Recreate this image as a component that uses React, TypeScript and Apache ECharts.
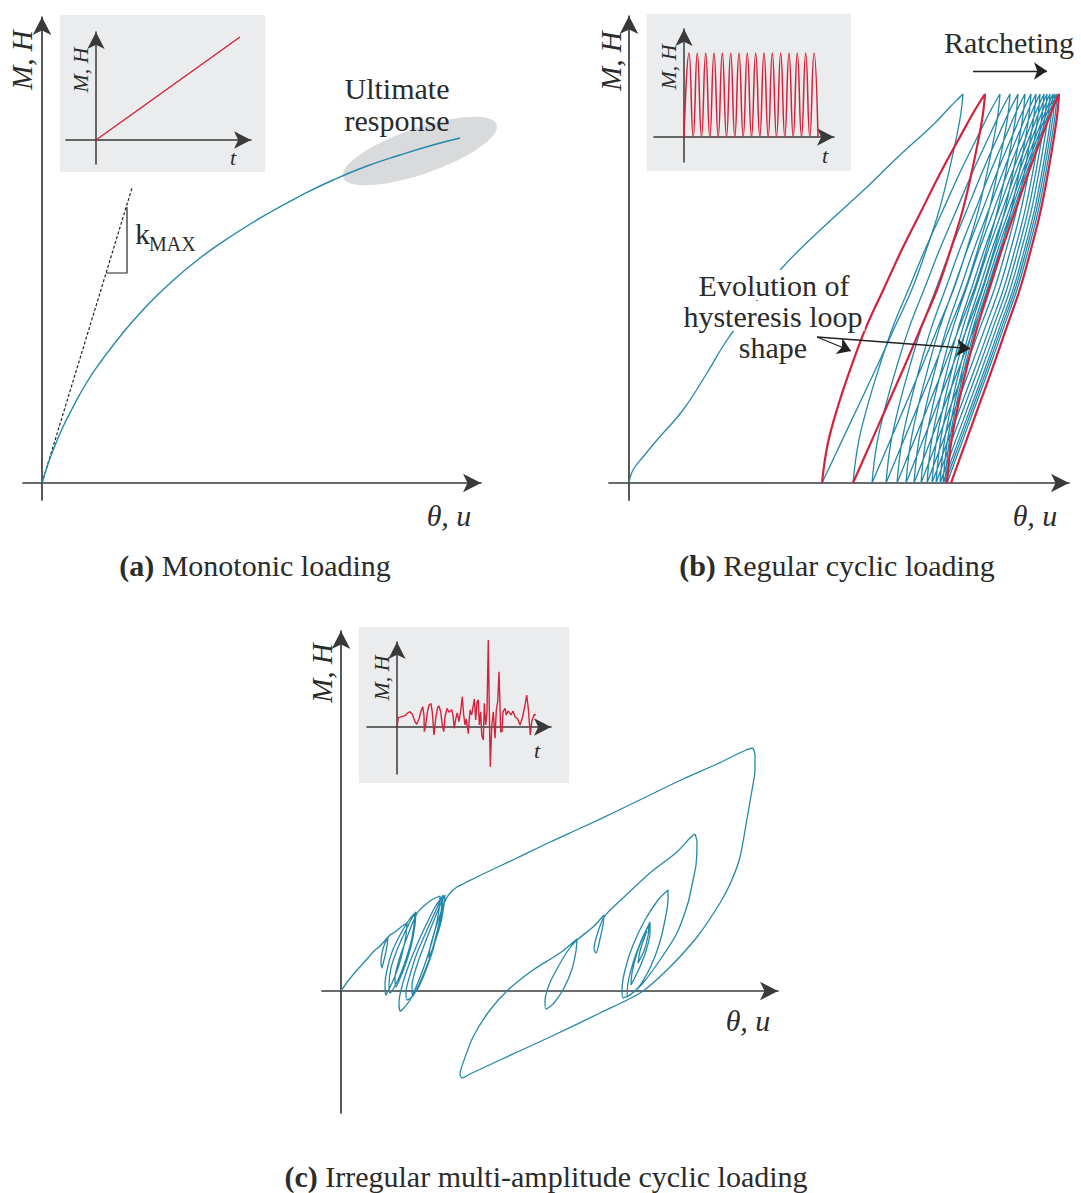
import React, { useEffect, useRef } from "react";
import * as echarts from "echarts";

const BLUE = "#2488aa";
const RED = "#d3223b";
const INK = "#2b2b2b";
const AXIS = "#3a3a3a";
const INSET_BG = "#ebeced";
const ZONE = "#d9dadb";
const FONT = '"Liberation Serif", "DejaVu Serif", serif';

// ---------- Panel (a): monotonic loading ----------
const aMonotonicCurve = [
  [0, 0], [5, 16], [10, 30], [20, 54], [30, 74], [45, 101], [60, 123], [80, 149],
  [100, 172], [125, 197], [158, 225], [191, 248], [225, 269], [258, 287],
  [291, 303], [325, 317], [358, 328], [391, 338], [418, 345],
];
const aInitialTangent = [[0, 0], [90, 295]];
const aSlopeTriangle = [[64, 210], [85, 210], [85, 276]];
const aUltimateZone = [[378, 332, 81, 23, 19]]; // centre x, centre y, half-length, half-width, tilt (deg)
const aInsetLoad = [[0, 0], [144, 103]];

// ---------- Panel (b): regular cyclic loading ----------
const bInitialLoading = [
  [0, 0], [4, 13], [14, 26], [28, 43], [54, 73], [78, 110], [98, 143],
  [126, 180], [153, 215], [188, 250], [238, 296], [271, 328], [304, 358],
  [321, 376], [331, 386], [334, 389],
];
const bLoopTops = [334, 356, 371, 381, 389, 396, 402, 407, 411, 415, 418, 421, 424, 426, 428, 430];
const bLoopBottoms = [193, 224, 243, 257, 268, 277, 285, 292, 298, 303, 307, 311, 314, 316, 318, 322];
const bLoopHeight = 389;
// reloading branch: [height fraction, horizontal fraction from start to peak]
const bReloadShape = [
  [0, 0], [0.1, 0.035], [0.2, 0.1], [0.3, 0.18], [0.4, 0.27], [0.5, 0.38],
  [0.6, 0.49], [0.7, 0.61], [0.8, 0.73], [0.9, 0.86], [0.96, 0.94], [1, 1],
];
// unloading branch: [height fraction, horizontal fraction from end to peak]
const bUnloadShape = [
  [1, 1], [0.95, 0.985], [0.9, 0.96], [0.8, 0.9], [0.7, 0.83], [0.6, 0.74],
  [0.5, 0.64], [0.4, 0.515], [0.3, 0.39], [0.2, 0.26], [0.1, 0.13], [0, 0],
];
const bInsetLoad = [
  [0, 0], [5, 84], [9.2, 0], [13.3, 84], [17.5, 0], [21.7, 84], [25.8, 0], [30, 84],
  [34.2, 0], [38.3, 84], [42.5, 0], [46.7, 84], [50.8, 0], [55, 84], [59.2, 0],
  [63.3, 84], [67.5, 0], [71.7, 84], [75.8, 0], [80, 84], [84.2, 0], [88.3, 84],
  [92.5, 0], [96.7, 84], [100.8, 0], [105, 84], [109.2, 0], [113.3, 84], [117.5, 0],
  [121.7, 84], [125.8, 0], [130, 84], [134, 0],
];
const bShapeArrows = [
  [[188, 146], [222, 132]],
  [[188, 146], [341, 134.5]],
];
const bRatchetArrow = [[344, 412], [418, 412]];

// ---------- Panel (c): irregular multi-amplitude cyclic loading ----------
const cFirstExcursion = [
  [0, 0], [7, 10], [17, 22], [27, 33], [33, 40], [39, 45], [47, 54],
  [46, 45], [44, 35], [42, 27], [41, 23], [40, 28], [41, 38], [44, 48], [48, 55],
  [54, 59], [60, 64], [66, 68],
  [65, 56], [62, 41], [57, 23], [51, 8], [46, -2], [45, -4],
  [44, 6], [46, 21], [51, 39], [59, 56], [68, 71], [74, 78],
  [73, 66], [70, 49], [64, 29], [57, 11], [51, 0], [49, -2],
  [48, 6], [50, 23], [56, 41], [64, 59], [71, 73], [75, 79],
  [74, 66], [71, 49], [66, 31], [60, 15], [55, 4],
  [54, 13], [58, 31], [65, 51], [72, 69], [77, 79],
  [84, 86], [92, 92], [99, 95],
  [98, 81], [94, 61], [87, 36], [78, 11], [69, -9], [61, -19], [59, -20],
  [58, -12], [60, 1], [66, 21], [75, 44], [85, 66], [94, 84], [101, 94],
  [100, 79], [96, 59], [89, 34], [80, 11], [72, -5], [66, -9],
  [65, -1], [69, 16], [76, 38], [86, 61], [95, 81], [102, 96],
  [101, 81], [97, 61], [91, 38], [83, 16], [76, 1], [71, -3],
  [71, 6], [76, 26], [84, 48], [93, 71], [100, 88], [104, 96],
  [103, 86], [100, 69], [94, 49], [88, 33],
  [89, 43], [94, 61], [100, 79], [105, 92], [110, 99], [116, 104],
  [124, 108], [142, 117], [176, 133], [209, 149], [242, 164],
  [276, 180], [309, 196], [342, 212], [376, 227], [405, 241], [412, 243],
];
const cLargeCycle = [
  [412, 243], [414, 236], [414, 221], [411, 201], [407, 178], [399, 134], [390, 109],
  [379, 88], [356, 54], [326, 21], [299, -2], [259, -22], [209, -46], [159, -69],
  [129, -83], [121, -87], [119, -83],
  [122, -72], [132, -46], [149, -19], [167, 1], [192, 21], [219, 38], [236, 52],
  [235, 40], [231, 22], [223, 3], [213, -12], [205, -18], [204, -10], [208, 6], [217, 24], [228, 42], [236, 51],
  [252, 64], [263, 76],
  [262, 66], [259, 52], [255, 38], [253, 42], [256, 56], [263, 74],
  [282, 93], [309, 118], [336, 139], [349, 153], [354, 157],
];
const cLateCycles = [
  [354, 157], [356, 149], [355, 126], [351, 106], [347, 88], [336, 58], [319, 31],
  [302, 8], [289, -4], [282, -7],
  [281, 1], [284, 21], [292, 46], [304, 71], [317, 91], [327, 101],
  [327, 91], [324, 71], [318, 46], [309, 23], [297, 3], [286, -6],
  [287, 8], [292, 28], [300, 50], [309, 69],
  [309, 58], [305, 40], [298, 22], [290, 6],
  [291, 18], [296, 38], [303, 56], [308, 66],
  [307, 55], [303, 40], [297, 28],
  [299, 40], [304, 55], [306, 60],
];
const cInsetLoad = [
  [0, 0], [1.3, 9.3], [4.7, 10.3], [8, 11.3], [10.7, 14], [13, 15.3], [15.3, 12.7],
  [18, 5.3], [19.7, 2.7], [22, 8], [24, 16], [25.7, 20.3], [27, 11.3], [27.3, -4.7],
  [28.7, 2], [30.3, 14.7], [32, 22], [34, 23.3], [35.3, 14.7], [37, -8], [38.7, 8.7],
  [40.7, 20], [42, 21], [43.7, 15.3], [45.3, 2], [46.7, -4.7], [48, 10], [50, 18.7],
  [52, 14.7], [53.3, 16], [54.7, 17.3], [56, 11.3], [57.3, -1.3], [58.7, 8], [60.3, 14],
  [62, 5.3], [64, 18.7], [65.3, 30.3], [66.7, 12], [68, 2], [69.3, 8], [71.3, -6.7],
  [73, 17], [74.7, 12], [76.3, 22], [77.3, 28], [78.7, 7], [80, 24.7], [81.3, 27.3],
  [82.3, 2], [83.7, 15.3], [84.7, -8], [86.3, -13], [87.3, 23.7], [88.7, 2], [90, 15.3],
  [91.3, 87], [92.7, -8], [93.3, -39.7], [94.7, 0.3], [96.3, 15.3], [98, -11.3],
  [99.3, 17], [100.7, 25.3], [102, 55.3], [103.7, -4.7], [105, -4.7], [106, 15.3],
  [108, 18.7], [109.3, 12], [111, 16], [112.3, 14.7], [114, 12], [116, 16], [118, 10.3],
  [120.7, 8], [123, 2], [125.3, 8.7], [128, 22], [129.7, 32], [131.3, 18.7], [133.3, -8],
  [134.7, 5.3], [136, 9.3], [137.3, 12.7], [138.7, 12],
];

// ---------- helpers ----------
function loopPath(from: number, top: number, to: number) {
  const pts: number[][] = [];
  bReloadShape.forEach(([h, f]) => pts.push([from + f * (top - from), h * bLoopHeight]));
  bUnloadShape.slice(1).forEach(([h, g]) => pts.push([to + g * (top - to), h * bLoopHeight]));
  return pts;
}
function unloadPath(top: number, to: number) {
  return bUnloadShape.map(([h, g]) => [to + g * (top - to), h * bLoopHeight]);
}

const bBlueFirst = [...bInitialLoading, ...unloadPath(bLoopTops[0], bLoopBottoms[0]).slice(1)];
const bRedFirst = loopPath(bLoopBottoms[0], bLoopTops[1], bLoopBottoms[1]);
const bBlueMiddle: number[][] = [];
for (let i = 2; i <= 14; i++) {
  const seg = loopPath(bLoopBottoms[i - 1], bLoopTops[i], bLoopBottoms[i]);
  bBlueMiddle.push(...(i === 2 ? seg : seg.slice(1)));
}
const bRedLast = loopPath(bLoopBottoms[14], bLoopTops[15], bLoopBottoms[15]);

const axisPair = (grid: number, xr: number[], yr: number[], inset: boolean) => {
  const common = {
    type: "value",
    gridIndex: grid,
    axisTick: { show: false },
    axisLabel: { show: false },
    splitLine: { show: false },
    axisLine: {
      show: true,
      onZero: true,
      symbol: ["none", "arrow"],
      symbolSize: inset ? [13, 17] : [14, 18],
      lineStyle: { color: AXIS, width: inset ? 1.5 : 1.7 },
    },
  };
  return {
    x: { ...common, min: xr[0], max: xr[1] },
    y: { ...common, min: yr[0], max: yr[1] },
  };
};

const line = (data: number[][], idx: number, color: string, width: number, extra: any = {}) => ({
  type: "line",
  xAxisIndex: idx,
  yAxisIndex: idx,
  data,
  symbol: "none",
  showSymbol: false,
  silent: true,
  clip: false,
  lineStyle: { color, width, ...(extra.lineStyle || {}) },
  smooth: extra.smooth ?? false,
  z: extra.z ?? 2,
});

const txt = (text: string, x: number, y: number, size: number, o: any = {}) => ({
  type: "text",
  x,
  y,
  z: 100,
  rotation: o.rot || 0,
  silent: true,
  style: {
    text,
    fontFamily: FONT,
    fontSize: size,
    fontStyle: o.italic ? "italic" : "normal",
    fill: INK,
    align: o.align || "center",
    verticalAlign: "middle",
    backgroundColor: o.bg,
    padding: o.pad,
    rich: o.rich,
  },
});

const BIG = 30;
const boldRich = { b: { fontWeight: "bold", fontFamily: FONT, fontSize: BIG, fill: INK } };

export default function App() {
  const ref = useRef<HTMLDivElement>(null);
  useEffect(() => {
    if (!ref.current) return;
    const chart = echarts.init(ref.current, undefined, { renderer: "svg" });

    const grids = [
      { left: 23, top: 17, width: 458, height: 483 },
      { left: 609, top: 16, width: 460, height: 484 },
      { left: 322, top: 631, width: 456, height: 482 },
      { left: 66, top: 32, width: 185, height: 132 },
      { left: 654, top: 29, width: 180, height: 133 },
      { left: 367, top: 642, width: 184, height: 132 },
    ];
    const axes = [
      axisPair(0, [-19, 439], [-17, 466], false),
      axisPair(1, [-20, 440], [-17, 467], false),
      axisPair(2, [-19, 437], [-122, 360], false),
      axisPair(3, [-30, 155], [-24, 108], true),
      axisPair(4, [-30, 150], [-25, 108], true),
      axisPair(5, [-30, 154], [-47, 85], true),
    ];

    const arrowLines = (pairs: number[][][]) =>
      pairs.map((p) => [{ coord: p[0] }, { coord: p[1] }]);

    const option: any = {
      animation: false,
      backgroundColor: "#ffffff",
      grid: grids.map((g) => ({ ...g, containLabel: false, show: false })),
      xAxis: axes.map((a) => a.x),
      yAxis: axes.map((a) => a.y),
      graphic: {
        elements: [
          { type: "rect", z: -100, silent: true, shape: { x: 60, y: 15, width: 205, height: 157 }, style: { fill: INSET_BG } },
          { type: "rect", z: -100, silent: true, shape: { x: 647, y: 14, width: 204, height: 157 }, style: { fill: INSET_BG } },
          { type: "rect", z: -100, silent: true, shape: { x: 359, y: 627, width: 210, height: 156 }, style: { fill: INSET_BG } },
          // panel (a)
          txt("M, H", 22, 60, 29, { italic: true, rot: Math.PI / 2 }),
          txt("θ, u", 449, 515, BIG, { italic: true }),
          txt("M, H", 80, 70, 22, { italic: true, rot: Math.PI / 2 }),
          txt("t", 233, 157, 22, { italic: true }),
          txt("Ultimate", 397, 88, BIG),
          txt("response", 397, 120, BIG),
          txt("k", 135, 233, BIG, { align: "left" }),
          txt("MAX", 149, 244, 20, { align: "left" }),
          txt("{b|(a)} Monotonic loading", 255, 565, BIG, { rich: boldRich }),
          // panel (b)
          txt("M, H", 611, 61, 29, { italic: true, rot: Math.PI / 2 }),
          txt("θ, u", 1035, 515, BIG, { italic: true }),
          txt("M, H", 668, 67, 22, { italic: true, rot: Math.PI / 2 }),
          txt("t", 825, 155, 22, { italic: true }),
          txt("Ratcheting", 1009, 42, BIG),
          txt("Evolution of", 774, 285, BIG, { bg: "#ffffff", pad: [0, 2] }),
          txt("hysteresis loop", 773, 316, BIG, { bg: "#ffffff", pad: [0, 2] }),
          txt("shape", 773, 347, BIG, { bg: "#ffffff", pad: [0, 2] }),
          txt("{b|(b)} Regular cyclic loading", 837, 565, BIG, { rich: boldRich }),
          // panel (c)
          txt("M, H", 322, 673, 29, { italic: true, rot: Math.PI / 2 }),
          txt("θ, u", 748, 1020, BIG, { italic: true }),
          txt("M, H", 381, 678, 22, { italic: true, rot: Math.PI / 2 }),
          txt("t", 537, 750, 22, { italic: true }),
          txt("{b|(c)} Irregular multi-amplitude cyclic loading", 546, 1176, BIG, { rich: boldRich }),
        ],
      },
      series: [
        // panel (a)
        {
          type: "custom",
          xAxisIndex: 0,
          yAxisIndex: 0,
          silent: true,
          clip: false,
          data: aUltimateZone,
          renderItem: (_p: any, api: any) => {
            const c = api.coord([api.value(0), api.value(1)]);
            const s = api.size([api.value(2), api.value(3)]);
            return {
              type: "ellipse",
              x: c[0],
              y: c[1],
              rotation: (api.value(4) * Math.PI) / 180,
              shape: { cx: 0, cy: 0, rx: s[0], ry: s[1] },
              style: { fill: ZONE },
            };
          },
        },
        line(aInitialTangent, 0, "#222", 1.2, { lineStyle: { type: [3, 2] } }),
        line(aSlopeTriangle, 0, "#222", 1.2),
        line(aMonotonicCurve, 0, BLUE, 1.4, { smooth: 0.5 }),
        line(aInsetLoad, 3, RED, 1.5),
        // panel (b)
        line(bBlueFirst, 1, BLUE, 1.3, { smooth: 0.4 }),
        line(bBlueMiddle, 1, BLUE, 1.3, { smooth: 0.4 }),
        line(bRedFirst, 1, RED, 2.2, { smooth: 0.4, z: 3 }),
        line(bRedLast, 1, RED, 2.2, { smooth: 0.4, z: 3 }),
        line(bInsetLoad, 4, RED, 1.5, { smooth: 0.5 }),
        {
          type: "line",
          xAxisIndex: 1,
          yAxisIndex: 1,
          data: [],
          symbol: "none",
          silent: true,
          markLine: {
            silent: true,
            symbol: ["none", "arrow"],
            symbolSize: 13,
            label: { show: false },
            emphasis: { disabled: true },
            lineStyle: { color: "#222", width: 1.3, type: "solid" },
            data: [...arrowLines(bShapeArrows), ...arrowLines([bRatchetArrow])],
          },
        },
        // panel (c)
        line(cFirstExcursion, 2, BLUE, 1.3, { smooth: 0.25 }),
        line(cLargeCycle, 2, BLUE, 1.3, { smooth: 0.25 }),
        line(cLateCycles, 2, BLUE, 1.3, { smooth: 0.25 }),
        line(cInsetLoad, 5, RED, 1.4),
      ],
    };
    chart.setOption(option);
    return () => chart.dispose();
  }, []);
  return (
    <div
      ref={ref}
      style={{ position: "absolute", left: 0, top: 0, width: 1081, height: 1193, background: "#fff" }}
    />
  );
}
